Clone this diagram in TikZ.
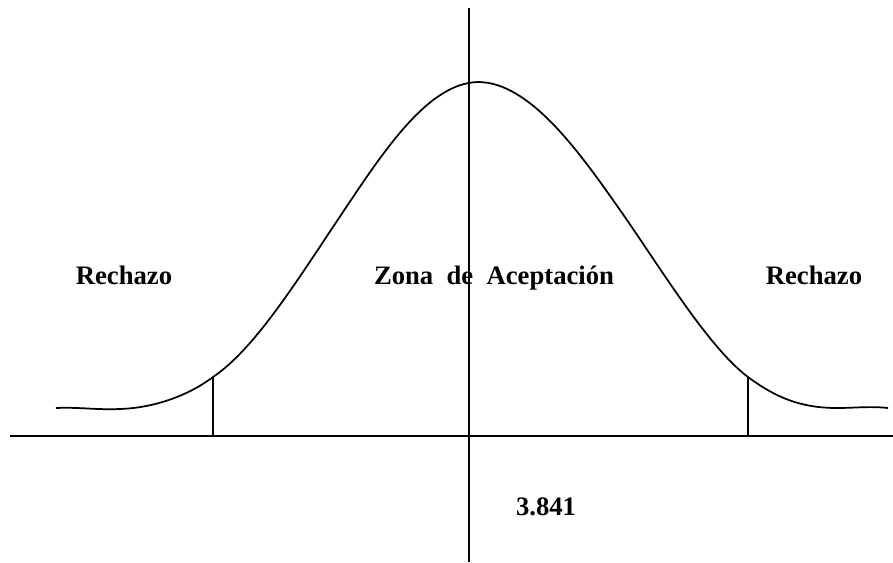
\documentclass[tikz,border=0pt]{standalone}
\usepackage{fontspec}
\setmainfont{Liberation Serif}
\usepackage{tikz}
\usetikzlibrary{positioning}

\begin{document}
\begin{tikzpicture}[x=0.75pt, y=-0.75pt, line width=1.3pt,
    zona/.style={font=\fontsize{20}{24}\selectfont\bfseries, inner sep=0pt, anchor=base}]
    \useasboundingbox (0,0) rectangle (893,562);
    % Ejes
    \coordinate (xizq) at (10,436);
    \coordinate (xder) at (893,436);
    \coordinate (yarr) at (469,8);
    \coordinate (yaba) at (469,562);
    \draw (xizq) -- (xder);
    \draw (yarr) -- (yaba);
    
    % Valores criticos
    \coordinate (ci) at (213,377);
    \coordinate (ci0) at (213,436);
    \coordinate (cd) at (748,377);
    \coordinate (cd0) at (748,436);
    \coordinate (pico) at (478,82);
    
    % Curva de la distribucion
    \draw (56,408) .. controls (80,407) and (95,410) .. (120,409)
        .. controls (150,408) and (185,398) .. (ci)
        .. controls (253,350) and (293,287) .. (333,227)
        .. controls (378,160) and (425,83) .. (pico)
        .. controls (530,82) and (580,153) .. (620,210)
        .. controls (660,267) and (708,347) .. (cd)
        .. controls (775,397) and (800,408) .. (837,408)
        .. controls (855,408) and (870,406) .. (888,408);
    
    \draw (ci) -- (ci0);
    \draw (cd) -- (cd0);
    
    % Zonas
    \node[zona] (rechizq) at (124,284) {Rechazo};
    \node[zona] (acepta) at (494,284) {Zona\ \ de\ \ Aceptación};
    \node[zona] (rechder) at (814,284) {Rechazo};
    \node[zona] (valor) at (546,515) {3.841};
\end{tikzpicture}
\end{document}
